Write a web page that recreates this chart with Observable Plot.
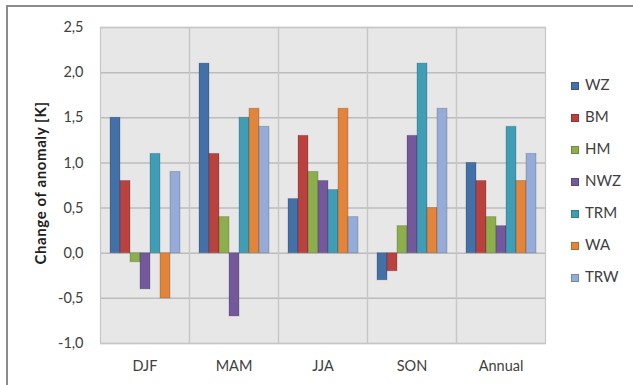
<!DOCTYPE html>
<html>
<head>
<meta charset="utf-8">
<script src="https://cdn.jsdelivr.net/npm/d3@7"></script>
<script src="https://cdn.jsdelivr.net/npm/@observablehq/plot@0.6"></script>
<style>
  html, body { margin: 0; padding: 0; background: #fff; }
  #wrap { position: relative; width: 633px; height: 385px; overflow: hidden; font-family: Lato, "Open Sans", sans-serif; color: #404040; }
  #border { position: absolute; left: 6px; top: 5px; width: 700px; height: 500px; border-top: 2px solid #8c8c8c; border-left: 2px solid #8c8c8c; pointer-events: none; }
  #ylabel { position: absolute; left: 40px; top: 183px; transform: translate(-50%, -50%) rotate(-90deg); white-space: nowrap; font-weight: bold; font-size: 15px; letter-spacing: 0.6px; color: #202020; }
  #legend { position: absolute; left: 571px; top: 0; }
  .item { position: absolute; left: 0; white-space: nowrap; font-size: 15px; line-height: 16px; }
  .sw { display: inline-block; width: 8px; height: 8px; margin-right: 6px; vertical-align: 0px; box-sizing: border-box; border: 1px solid rgba(0,0,0,0.2); }
</style>
</head>
<body>
<div id="wrap">
  <div id="chart"></div>
  <div id="ylabel">Change of anomaly [K]</div>
  <div id="legend"></div>
  <div id="border"></div>
</div>
<script>
const seasons = ["DJF", "MAM", "JJA", "SON", "Annual"];
const seriesNames = ["WZ", "BM", "HM", "NWZ", "TRM", "WA", "TRW"];
const WZ  = [1.5, 2.1, 0.6, -0.3, 1.0];
const BM  = [0.8, 1.1, 1.3, -0.2, 0.8];
const HM  = [-0.1, 0.4, 0.9, 0.3, 0.4];
const NWZ = [-0.4, -0.7, 0.8, 1.3, 0.3];
const TRM = [1.1, 1.5, 0.7, 2.1, 1.4];
const WA  = [-0.5, 1.6, 1.6, 0.5, 0.8];
const TRW = [0.9, 1.4, 0.4, 1.6, 1.1];
const yTicks = [-1.0, -0.5, 0.0, 0.5, 1.0, 1.5, 2.0, 2.5];
const colors = ["#4470a8", "#b9423f", "#8cae4d", "#73599b", "#409db6", "#e2843a", "#94acd7"];

const seriesValues = [WZ, BM, HM, NWZ, TRM, WA, TRW];
const rows = [];
seasons.forEach((s, i) => {
  seriesNames.forEach((n, j) => rows.push({season: s, series: n, value: seriesValues[j][i]}));
});

const fmt = d => d.toFixed(1).replace(".", ",").replace("-", "-");

const chart = Plot.plot({
  width: 633,
  height: 385,
  marginLeft: 100,
  marginRight: 88,
  marginTop: 27,
  marginBottom: 42,
  style: {fontFamily: "Lato, 'Open Sans', sans-serif", fontSize: "14.5px", color: "#404040", background: "transparent"},
  fx: {domain: seasons, padding: 0, label: null, tickSize: 0, tickPadding: 17},
  x: {domain: seriesNames, axis: null, paddingInner: 0, paddingOuter: 0.7},
  y: {domain: [-1, 2.5], ticks: yTicks, tickFormat: fmt, tickSize: 0, tickPadding: 17, label: null},
  color: {domain: seriesNames, range: colors},
  marks: [
    Plot.frame({fill: "#e7e7e7", stroke: null}),
    Plot.gridY(yTicks, {stroke: "#bcbcbc", strokeOpacity: 1, strokeWidth: 1.5}),
    Plot.frame({stroke: "#c6c6c6", strokeWidth: 1.2}),
    Plot.barY(rows, {fx: "season", x: "series", y: "value", fill: "series", stroke: "#000", strokeOpacity: 0.18, strokeWidth: 1})
  ]
});
document.getElementById("chart").appendChild(chart);

const legend = document.getElementById("legend");
seriesNames.forEach((n, i) => {
  const d = document.createElement("div");
  d.className = "item";
  d.style.top = (76 + i * 32) + "px";
  const sw = document.createElement("span");
  sw.className = "sw";
  sw.style.background = colors[i];
  d.appendChild(sw);
  d.appendChild(document.createTextNode(n));
  legend.appendChild(d);
});
</script>
</body>
</html>
